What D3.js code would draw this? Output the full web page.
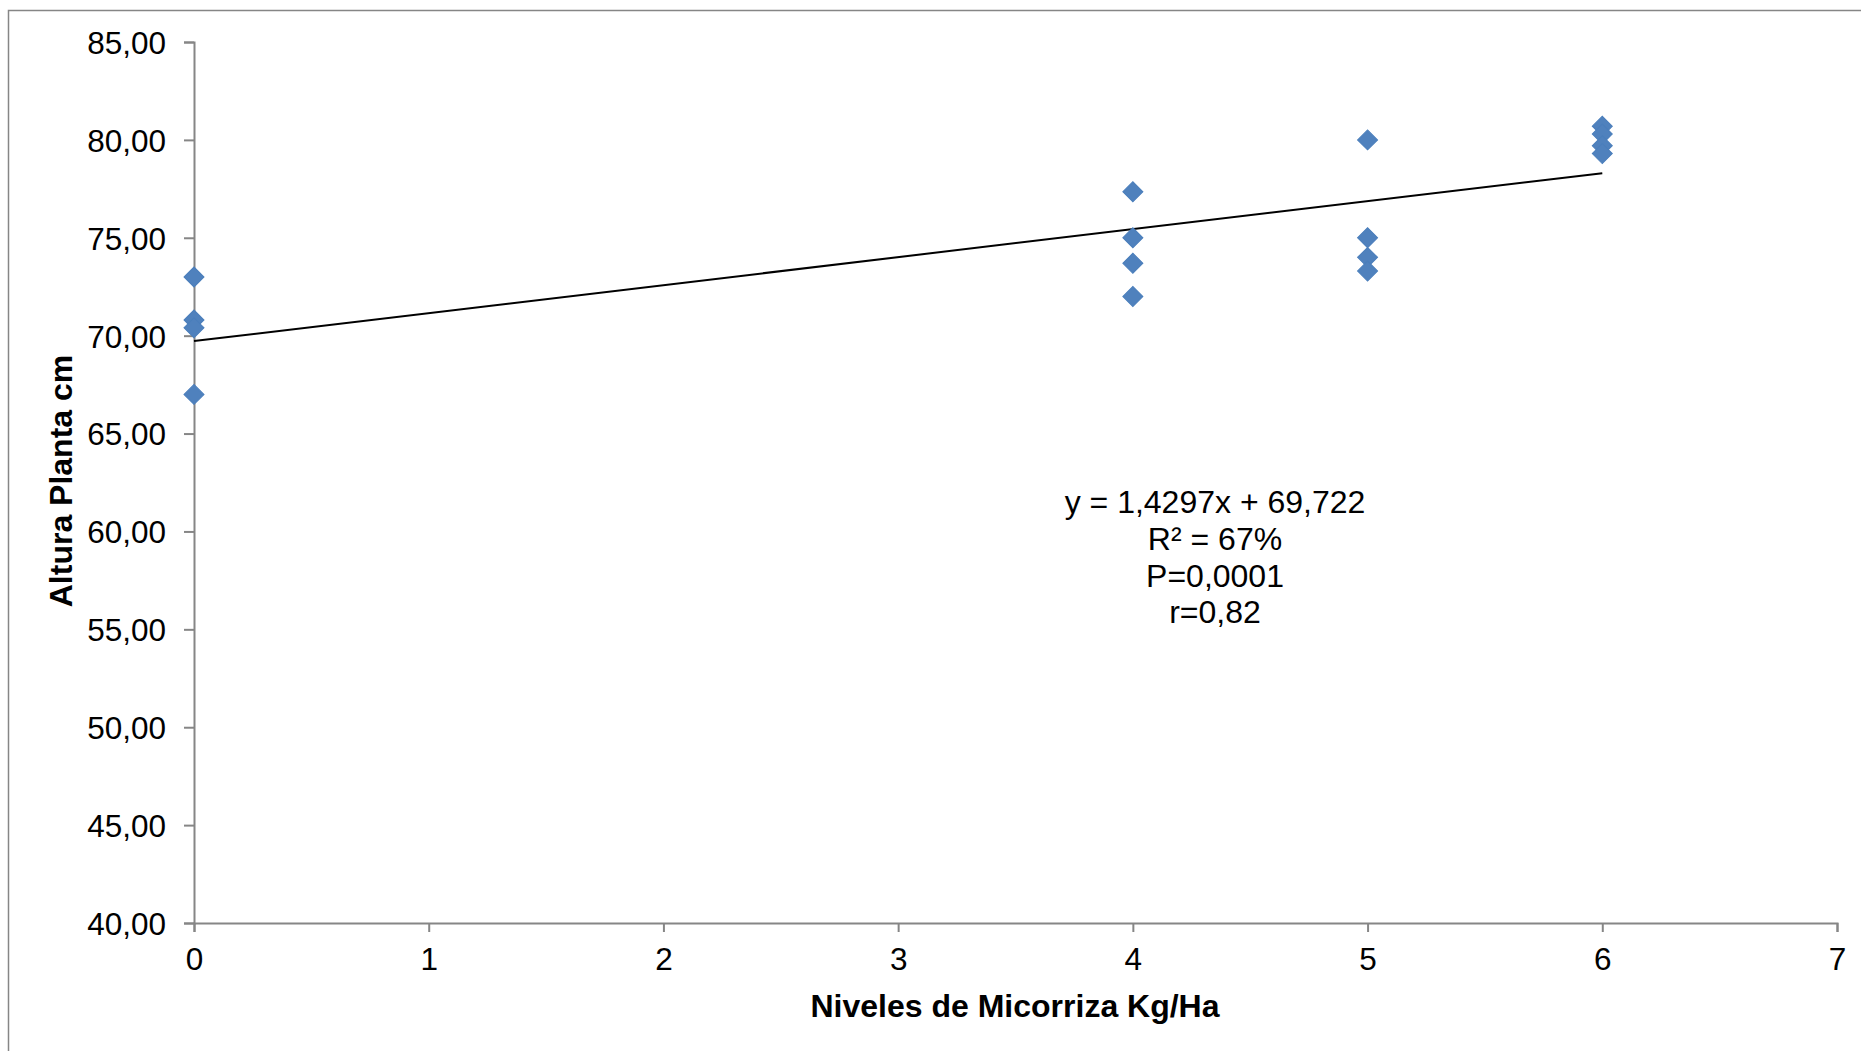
<!DOCTYPE html>
<html>
<head>
<meta charset="utf-8">
<script src="https://cdn.jsdelivr.net/npm/d3@7"></script>
<style>
  html, body { margin: 0; padding: 0; background: #fff; }
  svg { display: block; font-family: "Liberation Sans", Arial, sans-serif; }
</style>
</head>
<body>
<svg id="chart" width="1861" height="1051"></svg>
<script>
// Micorriza dose (kg/ha) and measured plant height (cm)
const niveles = [0, 0, 0, 0, 4, 4, 4, 4, 5, 5, 5, 5, 6, 6, 6, 6];
const altura  = [73.0, 70.8, 70.4, 67.0,
                 77.35, 75.0, 73.7, 72.0,
                 80.0, 75.0, 74.0, 73.3,
                 80.7, 80.3, 79.7, 79.3];

// Linear fit reported with the data
const slope = 1.4297;
const intercept = 69.722;
const statsLines = ["y = 1,4297x + 69,722", "R² = 67%", "P=0,0001", "r=0,82"];

const xTicks = [0, 1, 2, 3, 4, 5, 6, 7];
const yTicks = [40, 45, 50, 55, 60, 65, 70, 75, 80, 85];

const xTitle = "Niveles de Micorriza Kg/Ha";
const yTitle = "Altura Planta cm";

const svg = d3.select("#chart");
const axisGray = "#868686";
const markColor = "#4F81BD";

const loc = d3.formatLocale({decimal: ",", thousands: ".", grouping: [3], currency: ["", ""]});
const fmtY = loc.format(".2f");

const x = d3.scaleLinear().domain([0, 7]).range([194, 1837]);
const y = d3.scaleLinear().domain([40, 85]).range([923, 42]);

// Outer chart frame
svg.append("rect")
  .attr("x", 8.5).attr("y", 10.5)
  .attr("width", 1900).attr("height", 1100)
  .attr("fill", "none").attr("stroke", axisGray).attr("stroke-width", 1.5);

// Y axis
const gy = svg.append("g").attr("transform", `translate(${x(0)},0)`)
  .call(d3.axisLeft(y).tickValues(yTicks).tickFormat(fmtY).tickSizeOuter(0).tickSize(10).tickPadding(18));
// X axis
const gx = svg.append("g").attr("transform", `translate(0,${y(40)})`)
  .call(d3.axisBottom(x).tickValues(xTicks).tickFormat(d3.format("d")).tickSizeOuter(0).tickSize(9).tickPadding(8));

[gx, gy].forEach(g => {
  g.select(".domain").attr("stroke", axisGray).attr("stroke-width", 2);
  g.selectAll(".tick line").attr("stroke", axisGray).attr("stroke-width", 2);
  g.selectAll(".tick text").attr("fill", "#000").style("font-size", "31.5px");
});
gx.selectAll(".tick text").attr("dy", "0.95em");
gy.selectAll(".tick text").attr("dy", "0.36em");

// Trend line from first to last dose
const x0 = d3.min(niveles), x1 = d3.max(niveles);
svg.append("line")
  .attr("x1", x(x0)).attr("y1", y(intercept + slope * x0))
  .attr("x2", x(x1)).attr("y2", y(intercept + slope * x1))
  .attr("stroke", "#000").attr("stroke-width", 2);

// Diamond markers
const diamond = d3.symbol().type(d3.symbolSquare).size(200);
svg.append("g").selectAll("path")
  .data(niveles.map((n, i) => [n, altura[i]]))
  .join("path")
  .attr("d", diamond)
  .attr("transform", d => `translate(${x(d[0])},${y(d[1])}) rotate(45)`)
  .attr("fill", markColor)
  .attr("stroke", "#4A7EBB").attr("stroke-width", 1);

// Regression statistics
svg.append("g").selectAll("text")
  .data(statsLines)
  .join("text")
  .attr("x", 1215)
  .attr("y", (d, i) => 513 + i * 36.8)
  .attr("text-anchor", "middle")
  .style("font-size", "32px")
  .attr("fill", "#000")
  .text(d => d);

// Axis titles
svg.append("text")
  .attr("x", 1015).attr("y", 1017)
  .attr("text-anchor", "middle")
  .style("font-size", "32px").style("font-weight", "bold")
  .text(xTitle);

svg.append("text")
  .attr("transform", `translate(72,481) rotate(-90)`)
  .attr("text-anchor", "middle")
  .style("font-size", "32px").style("font-weight", "bold")
  .text(yTitle);
</script>
</body>
</html>
